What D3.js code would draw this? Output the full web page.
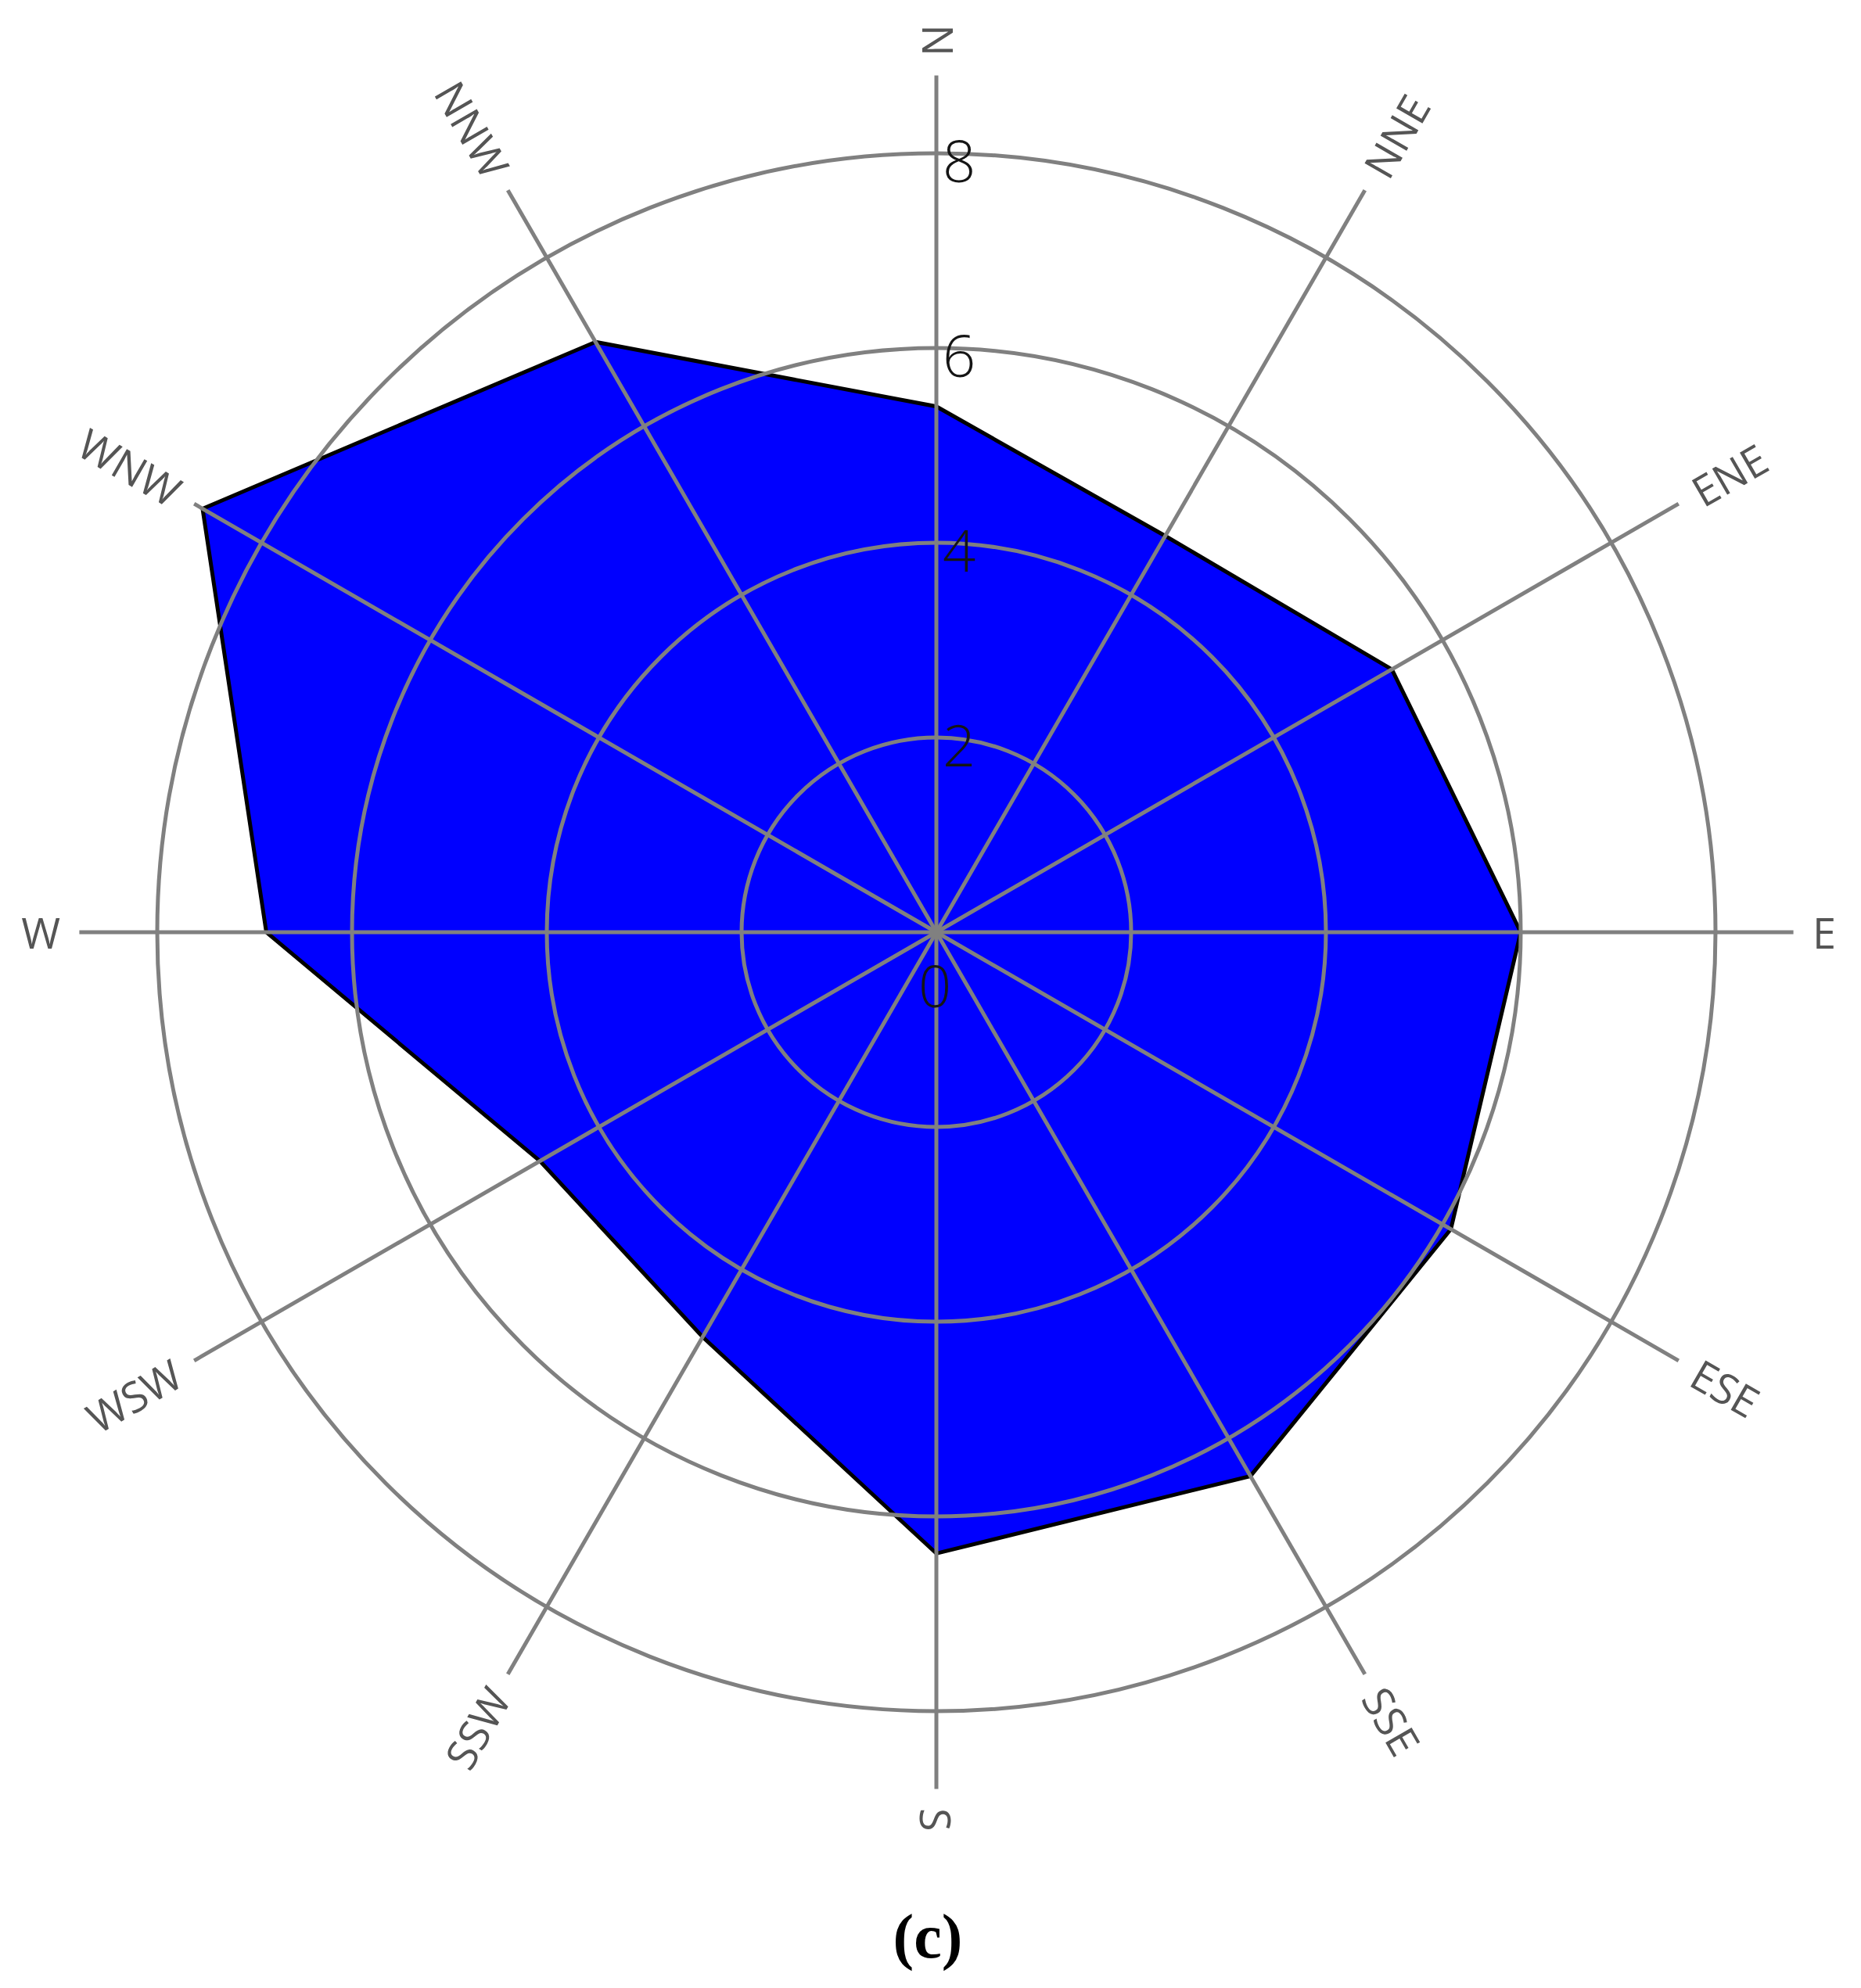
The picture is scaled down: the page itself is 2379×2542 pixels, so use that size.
<!DOCTYPE html>
<html>
<head>
<meta charset="utf-8">
<script src="https://cdn.jsdelivr.net/npm/d3@7"></script>
<style>
  body { margin: 0; background: #fff; }
  svg { display: block; }
</style>
</head>
<body>
<svg id="chartRose" width="2379" height="2542"></svg>
<script>

//data
const directions = ["N", "NNE", "ENE", "E", "ESE", "SSE", "S", "SSW", "WSW", "W", "WNW", "NNW"];
const values = [5.4, 4.7, 5.4, 6.0, 6.1, 6.45, 6.38, 4.8, 4.7, 6.88, 8.7, 7.0];
const ringTicks = [2, 4, 6, 8];
const tickLabels = ["0", "2", "4", "6", "8"];
const caption = "(c)";

//svg setup
var svgRose = d3.select("#chartRose"),
    cx = 1197,
    cy = 1192,
    roseG = svgRose.append("g").attr("transform", "translate(" + cx + "," + cy + ")");

//radial scale and angle scale
const r = d3.scaleLinear()
    .domain([0, 8])
    .range([0, 996]);

const angle = d3.scaleLinear()
    .domain([0, directions.length])
    .range([0, 2 * Math.PI]);

const gridColor = "#808080";
const spokeLen = r(8) * 1.1;
const labelR = 1120;

//polygon (drawn first so the grid sits on top)
const radialLine = d3.lineRadial()
    .angle((d, i) => angle(i))
    .radius(d => r(d))
    .curve(d3.curveLinearClosed);

roseG.append("path")
    .datum(values)
    .attr("d", radialLine)
    .style("fill", "#0000ff")
    .style("stroke", "#000")
    .style("stroke-width", 5)
    .style("stroke-linejoin", "miter");

//rings
roseG.selectAll(".ring")
  .data(ringTicks)
  .enter()
  .append("circle")
    .attr("class", "ring")
    .attr("r", d => r(d))
    .style("fill", "none")
    .style("stroke", gridColor)
    .style("stroke-width", 5);

//spokes
roseG.selectAll(".spoke")
  .data(directions)
  .enter()
  .append("line")
    .attr("class", "spoke")
    .attr("x1", 0)
    .attr("y1", 0)
    .attr("x2", (d, i) => Math.sin(angle(i)) * spokeLen)
    .attr("y2", (d, i) => -Math.cos(angle(i)) * spokeLen)
    .style("stroke", gridColor)
    .style("stroke-width", 5);

//direction labels
roseG.selectAll(".dirLabel")
  .data(directions)
  .enter()
  .append("text")
    .attr("class", "dirLabel")
    .attr("transform", function(d, i) {
        let deg = angle(i) * 180 / Math.PI;
        let x = Math.sin(angle(i)) * labelR,
            y = -Math.cos(angle(i)) * labelR;
        let rot = deg <= 180 ? deg - 90 : deg - 270;
        return "translate(" + x + "," + y + ") rotate(" + rot + ")";
    })
    .attr("text-anchor", (d, i) => angle(i) * 180 / Math.PI <= 180 ? "start" : "end")
    .attr("dominant-baseline", "central")
    .style("font-family", "'Open Sans', sans-serif")
    .style("font-size", "54px")
    .style("fill", "#555")
    .text(d => d);

//radial tick labels along the N axis
roseG.selectAll(".tickLabel")
  .data(tickLabels)
  .enter()
  .append("text")
    .attr("class", "tickLabel")
    .attr("x", d => d == "0" ? -2 : 8)
    .attr("y", d => d == "0" ? 96 : -r(+d) + 37)
    .attr("text-anchor", d => d == "0" ? "middle" : "start")
    .style("font-family", "'Open Sans', sans-serif")
    .style("font-size", "74px")
    .style("font-weight", 300)
    .style("fill", "#151515")
    .text(d => d);

//caption
svgRose.append("text")
    .attr("x", 1186)
    .attr("y", 2503)
    .attr("text-anchor", "middle")
    .style("font-family", "'Liberation Serif', 'Times New Roman', serif")
    .style("font-weight", "bold")
    .style("font-size", "80px")
    .style("fill", "#000")
    .text(caption);

</script>
</body>
</html>
